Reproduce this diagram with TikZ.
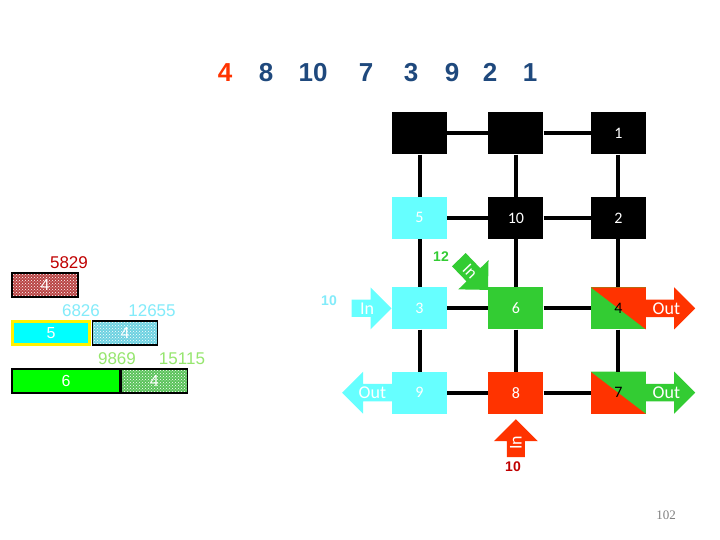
\documentclass[tikz,border=0pt]{standalone}
\usepackage{fontspec}
\usepackage{tikz}
\usetikzlibrary{positioning,shapes.arrows,patterns}
\newfontfamily\arialf{Liberation Sans}
\newfontfamily\calibrif{Carlito}
\newfontfamily\pagefont{Liberation Serif}
\definecolor{seqblue}{RGB}{31,73,125}
\definecolor{hotred}{RGB}{255,51,0}
\definecolor{lightcyan}{RGB}{102,255,255}
\definecolor{midgreen}{RGB}{51,204,51}
\definecolor{darkred}{RGB}{192,0,0}
\definecolor{barcyan}{RGB}{0,255,255}
\definecolor{bargreen}{RGB}{0,255,0}
\definecolor{labgreen}{RGB}{150,230,110}
\definecolor{labcyan}{RGB}{130,235,250}
\definecolor{redpat}{RGB}{185,70,70}
\definecolor{cyanpat}{RGB}{110,210,225}
\definecolor{greenpat}{RGB}{90,195,90}
\tikzset{
  cell/.style={minimum width=55pt, minimum height=42pt, inner sep=0pt,
               font=\calibrif\fontsize{16}{18}\selectfont, text=white},
  blackcell/.style={cell, fill=black},
  cyancell/.style={cell, fill=lightcyan},
  greencell/.style={cell, fill=midgreen},
  redcell/.style={cell, fill=hotred},
  splitcell/.style 2 args={cell, text=black, fill=#1,
    path picture={\fill[#2] (path picture bounding box.north west)
      -- (path picture bounding box.north east)
      -- (path picture bounding box.south east) -- cycle;}},
  gridline/.style={line width=4pt},
  flowarrow/.style={single arrow, single arrow head extend=10pt,
                    minimum width=42pt, inner sep=1pt, text=white,
                    font=\calibrif\fontsize{18}{20}\selectfont},
  bar/.style={draw=black, line width=1.2pt, minimum height=24pt, inner sep=0pt,
              text=white, font=\arialf\fontsize{16}{18}\selectfont},
  dotbar/.style={bar, preaction={fill=#1}, pattern=crosshatch dots, pattern color=white},
  barlabel/.style={font=\arialf\fontsize{17}{19}\selectfont, inner sep=0pt},
  numlabel/.style={font=\arialf\bfseries\fontsize{14}{16}\selectfont, inner sep=0pt},
  seqnum/.style={font=\arialf\bfseries\fontsize{26}{30}\selectfont, inner sep=0pt, text=seqblue},
}
\begin{document}
\begin{tikzpicture}[x=1pt, y=-1pt]
  \fill[white] (0,0) rectangle (720,540);
  \useasboundingbox (0,0) rectangle (720,540);

  % order of the nodes
  \node[seqnum, text=hotred] (s4) at (225,72.5) {4};
  \foreach \x/\t in {266/8, 313/10, 366/7, 411/3, 452/9, 490/2, 530/1}
    \node[seqnum] (s\t) at (\x,72.5) {\t};

  % mesh
  \node[blackcell] (tl) at (419.5,133.5) {};
  \node[blackcell, right=41pt of tl] (tm) {};
  \node[blackcell, right=47pt of tm] (one) {1};
  \node[cyancell, below=42pt of tl] (five) {5};
  \node[blackcell, below=42pt of tm] (ten) {10};
  \node[blackcell, below=42pt of one] (two) {2};
  \node[cyancell, below=48pt of five] (three) {3};
  \node[greencell, below=48pt of ten] (six) {6};
  \node[splitcell={midgreen}{hotred}, below=48pt of two] (four) {4};
  \node[cyancell, below=42pt of three] (nine) {9};
  \node[redcell, below=42pt of six] (eight) {8};
  \node[splitcell={hotred}{midgreen}, below=42pt of four] (seven) {7};

  \draw[gridline] (tl) -- (tm) (tm) -- (one) (five) -- (ten) (ten) -- (two)
    (three) -- (six) (six) -- (four) (nine) -- (eight) (eight) -- (seven);
  \draw[gridline] (tl) -- (five) (five) -- (three) (three) -- (nine)
    (tm) -- (ten) (ten) -- (six) (six) -- (eight)
    (one) -- (two) (two) -- (four) (four) -- (seven);

  % in / out arrows
  \node[flowarrow, fill=lightcyan, minimum height=40pt, anchor=tip] (inthree) at (three.west) {In};
  \node[flowarrow, fill=midgreen, minimum height=42pt, minimum width=42pt,
        single arrow head extend=8pt, font=\calibrif\fontsize{17}{19}\selectfont,
        rotate=-46, anchor=tip] (insix) at ([yshift=-3pt]six.north west) {In};
  \node[flowarrow, fill=hotred, minimum height=38pt, minimum width=44pt,
        rotate=90, anchor=tip] (ineight) at ([yshift=-5pt]eight.south) {In};
  \node[flowarrow, fill=hotred, minimum height=49pt, anchor=tail] (outfour) at (four.east) {Out};
  \node[flowarrow, fill=midgreen, minimum height=49pt, anchor=tail] (outseven) at (seven.east) {Out};
  \node[flowarrow, fill=lightcyan, minimum height=52pt, shape border rotate=180,
        anchor=tip] (outnine) at ([xshift=-50pt]nine.west) {Out};

  \node[numlabel, text=labcyan] (tinthree) at (329,301) {10};
  \node[numlabel, text=midgreen] (tinsix) at (441,257) {12};
  \node[numlabel, text=darkred] (tineight) at (513,467) {10};

  % packets
  \node[dotbar=redpat, minimum width=66pt] (bara) at (45,285) {4};
  \node[bar, fill=barcyan, draw=yellow, line width=3pt, minimum width=77pt,
        minimum height=23pt] (barb) at (51,333) {5};
  \node[dotbar=cyanpat, minimum width=65pt, right=1pt of barb] (barc) {4};
  \node[bar, fill=bargreen, minimum width=108pt] (bard) at (66,381) {6};
  \node[dotbar=greenpat, minimum width=66pt, right=0pt of bard] (bare) {4};

  \node[barlabel, text=darkred] (la) at (69,263) {5829};
  \node[barlabel, text=labcyan] (lb) at (81,311) {6826};
  \node[barlabel, text=labcyan] (lc) at (152,311) {12655};
  \node[barlabel, text=labgreen] (ld) at (117,359) {9869};
  \node[barlabel, text=labgreen] (le) at (182,359) {15115};

  \node[font=\pagefont\fontsize{13}{15}\selectfont, text=gray] (pagenum) at (666,515) {102};
\end{tikzpicture}
\end{document}
